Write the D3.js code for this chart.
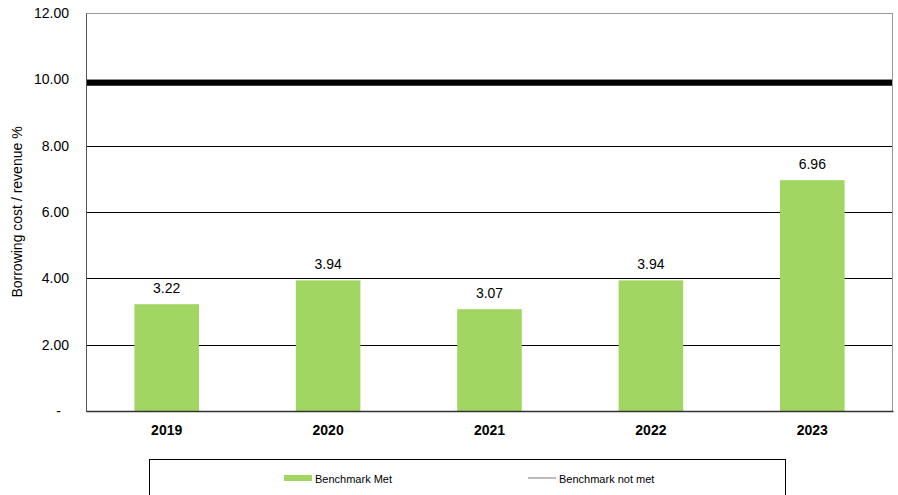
<!DOCTYPE html>
<html>
<head>
<meta charset="utf-8">
<script src="https://cdn.jsdelivr.net/npm/d3@7"></script>
<style>
  html, body { margin: 0; padding: 0; background: #fff; }
  svg { display: block; font-family: "Liberation Sans", Arial, sans-serif; }
</style>
</head>
<body>
<svg id="chart" width="898" height="495"></svg>
<script>
// Borrowing cost as a share of revenue, by year
const years = ["2019", "2020", "2021", "2022", "2023"];
const ratios = [3.22, 3.94, 3.07, 3.94, 6.96];
const benchmark = [9.9];
const yTicks = [0, 2, 4, 6, 8, 10, 12];
const legendLabels = ["Benchmark Met", "Benchmark not met"];

const svg = d3.select("#chart");
const margin = { left: 86, right: 5, top: 13, bottom: 84 };
const W = 898, H = 495;

const x = d3.scaleBand()
  .domain(years)
  .range([margin.left, W - margin.right])
  .paddingInner(0.6)
  .paddingOuter(0.3);

const y = d3.scaleLinear()
  .domain([0, 12])
  .range([H - margin.bottom, margin.top]);

const fmt = v => v === 0 ? "-" : d3.format(".2f")(v);

// gridlines
svg.append("g")
  .selectAll("line")
  .data(yTicks.filter(t => t > 0 && t < 12))
  .join("line")
  .attr("x1", margin.left).attr("x2", W - margin.right)
  .attr("y1", d => Math.round(y(d)) + 0.5).attr("y2", d => Math.round(y(d)) + 0.5)
  .attr("stroke", d => d === 10 ? "#bbb" : "#000")
  .attr("stroke-width", 1);

// plot frame
svg.append("rect")
  .attr("x", margin.left + 0.5).attr("y", margin.top + 0.5)
  .attr("width", W - margin.right - margin.left - 1)
  .attr("height", y(0) - margin.top)
  .attr("fill", "none")
  .attr("stroke", "#999");

// y axis
const yAxis = d3.axisLeft(y).tickValues(yTicks).tickFormat(fmt).tickSize(0).tickPadding(17);
const gy = svg.append("g").attr("transform", `translate(${margin.left},0)`).call(yAxis);
gy.select(".domain").attr("stroke", "#555");
gy.selectAll("text").attr("font-size", 14).attr("fill", "#000")
  .attr("font-family", "Liberation Sans, Arial, sans-serif")
  .attr("dx", d => d === 0 ? -8 : 0);

// bars
svg.append("g")
  .selectAll("rect")
  .data(years)
  .join("rect")
  .attr("x", d => x(d))
  .attr("width", x.bandwidth())
  .attr("y", (d, i) => y(ratios[i]))
  .attr("height", (d, i) => y(0) - y(ratios[i]))
  .attr("fill", "#a2d662");

// value labels
svg.append("g")
  .selectAll("text")
  .data(years)
  .join("text")
  .attr("x", d => x(d) + x.bandwidth() / 2)
  .attr("y", (d, i) => y(ratios[i]) - 11.5)
  .attr("text-anchor", "middle")
  .attr("font-size", 14)
  .text((d, i) => d3.format(".2f")(ratios[i]));

// benchmark line
svg.append("g")
  .selectAll("line")
  .data(benchmark)
  .join("line")
  .attr("x1", margin.left + 1).attr("x2", W - margin.right - 1)
  .attr("y1", d => y(d)).attr("y2", d => y(d))
  .attr("stroke", "#000")
  .attr("stroke-width", 6);

// x axis
const xAxis = d3.axisBottom(x).tickSize(0).tickPadding(14);
const gx = svg.append("g").attr("transform", `translate(0,${y(0)})`).call(xAxis);
gx.select(".domain").attr("stroke", "#333").attr("stroke-width", 1.5);
gx.selectAll("text").attr("font-size", 14).attr("font-weight", "bold").attr("fill", "#000")
  .attr("font-family", "Liberation Sans, Arial, sans-serif");

// y axis title
svg.append("text")
  .attr("transform", `translate(22,${(margin.top + y(0)) / 2}) rotate(-90)`)
  .attr("text-anchor", "middle")
  .attr("font-size", 14)
  .text("Borrowing cost / revenue %");

// legend
const lg = svg.append("g");
lg.append("rect")
  .attr("x", 149.5).attr("y", 459.5)
  .attr("width", 636).attr("height", 60)
  .attr("fill", "#fff").attr("stroke", "#000");
lg.append("rect")
  .attr("x", 284).attr("y", 475).attr("width", 28).attr("height", 6)
  .attr("fill", "#a2d662");
lg.append("text")
  .attr("x", 315).attr("y", 482.5).attr("font-size", 11)
  .text(legendLabels[0]);
lg.append("line")
  .attr("x1", 528).attr("x2", 556).attr("y1", 478).attr("y2", 478)
  .attr("stroke", "#bbb").attr("stroke-width", 2);
lg.append("text")
  .attr("x", 559).attr("y", 482.5).attr("font-size", 11)
  .text(legendLabels[1]);
</script>
</body>
</html>
